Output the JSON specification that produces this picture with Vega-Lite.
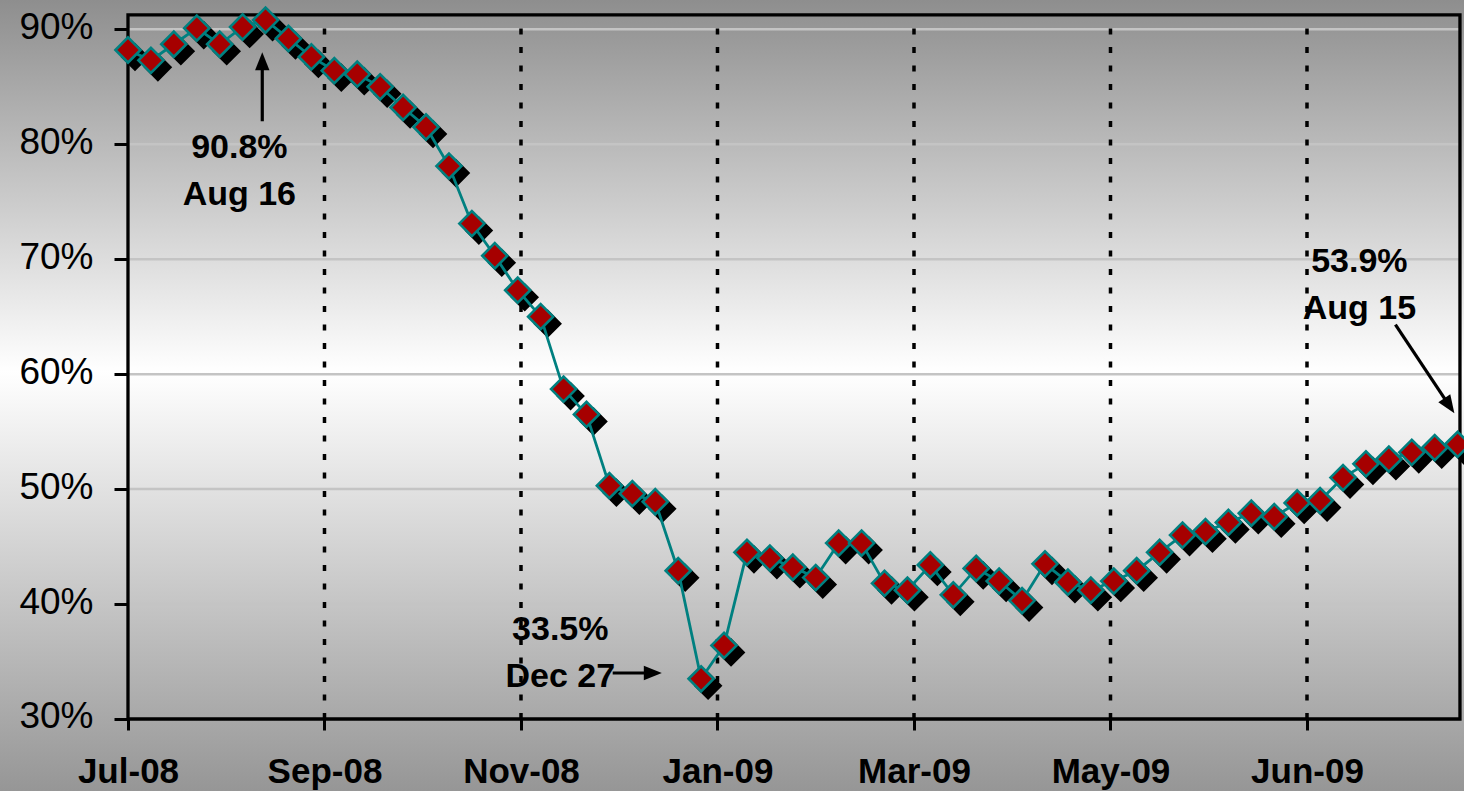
{
  "$schema": "https://vega.github.io/schema/vega-lite/v6.json",
  "width": 1464,
  "height": 791,
  "autosize": {"type": "none"},
  "padding": 0,
  "background": "#b0b0b0",
  "view": {
    "stroke": null,
    "fill": {
      "gradient": "linear", "x1": 0, "y1": 0, "x2": 0, "y2": 1,
      "stops": [
        {"offset": 0, "color": "#8e8e8e"},
        {"offset": 0.47, "color": "#ffffff"},
        {"offset": 1, "color": "#969696"}
      ]
    }
  },
  "config": {
    "font": "Liberation Sans, Arial, sans-serif"
  },
  "datasets": {
    "series": [
      {"date": "2008-07-05", "pct": 88.2},
      {"date": "2008-07-12", "pct": 87.3},
      {"date": "2008-07-19", "pct": 88.7},
      {"date": "2008-07-26", "pct": 90.1},
      {"date": "2008-08-02", "pct": 88.7},
      {"date": "2008-08-09", "pct": 90.2},
      {"date": "2008-08-16", "pct": 90.8},
      {"date": "2008-08-23", "pct": 89.2},
      {"date": "2008-08-30", "pct": 87.6},
      {"date": "2008-09-06", "pct": 86.4},
      {"date": "2008-09-13", "pct": 86.1},
      {"date": "2008-09-20", "pct": 85.0},
      {"date": "2008-09-27", "pct": 83.2},
      {"date": "2008-10-04", "pct": 81.5},
      {"date": "2008-10-11", "pct": 78.1},
      {"date": "2008-10-18", "pct": 73.1},
      {"date": "2008-10-25", "pct": 70.3},
      {"date": "2008-11-01", "pct": 67.3},
      {"date": "2008-11-08", "pct": 65.0},
      {"date": "2008-11-15", "pct": 58.7},
      {"date": "2008-11-22", "pct": 56.5},
      {"date": "2008-11-29", "pct": 50.3},
      {"date": "2008-12-06", "pct": 49.6},
      {"date": "2008-12-13", "pct": 48.9},
      {"date": "2008-12-20", "pct": 42.9},
      {"date": "2008-12-27", "pct": 33.5},
      {"date": "2009-01-03", "pct": 36.4},
      {"date": "2009-01-10", "pct": 44.5},
      {"date": "2009-01-17", "pct": 44.0},
      {"date": "2009-01-24", "pct": 43.2},
      {"date": "2009-01-31", "pct": 42.3},
      {"date": "2009-02-07", "pct": 45.3},
      {"date": "2009-02-14", "pct": 45.3},
      {"date": "2009-02-21", "pct": 41.8},
      {"date": "2009-02-28", "pct": 41.2},
      {"date": "2009-03-07", "pct": 43.4},
      {"date": "2009-03-14", "pct": 40.8},
      {"date": "2009-03-21", "pct": 43.1},
      {"date": "2009-03-28", "pct": 42.0},
      {"date": "2009-04-04", "pct": 40.3},
      {"date": "2009-04-11", "pct": 43.5},
      {"date": "2009-04-18", "pct": 41.9},
      {"date": "2009-04-25", "pct": 41.2},
      {"date": "2009-05-02", "pct": 42.0},
      {"date": "2009-05-09", "pct": 42.9},
      {"date": "2009-05-16", "pct": 44.5},
      {"date": "2009-05-23", "pct": 46.0},
      {"date": "2009-05-30", "pct": 46.3},
      {"date": "2009-06-06", "pct": 47.1},
      {"date": "2009-06-13", "pct": 47.9},
      {"date": "2009-06-20", "pct": 47.6},
      {"date": "2009-06-27", "pct": 48.8},
      {"date": "2009-07-04", "pct": 49.0},
      {"date": "2009-07-11", "pct": 51.0},
      {"date": "2009-07-18", "pct": 52.2},
      {"date": "2009-07-25", "pct": 52.6},
      {"date": "2009-08-01", "pct": 53.2},
      {"date": "2009-08-08", "pct": 53.6},
      {"date": "2009-08-15", "pct": 53.9}
    ],
    "levels": [
      {"date": "2008-07-05", "date2": "2009-08-15T17:00:00Z", "pct": 40},
      {"date": "2008-07-05", "date2": "2009-08-15T17:00:00Z", "pct": 50},
      {"date": "2008-07-05", "date2": "2009-08-15T17:00:00Z", "pct": 60},
      {"date": "2008-07-05", "date2": "2009-08-15T17:00:00Z", "pct": 70},
      {"date": "2008-07-05", "date2": "2009-08-15T17:00:00Z", "pct": 80},
      {"date": "2008-07-05", "date2": "2009-08-15T17:00:00Z", "pct": 90}
    ],
    "months": [
      {"date": "2008-09-03", "pct": 30, "pct2": 91.25},
      {"date": "2008-11-02", "pct": 30, "pct2": 91.25},
      {"date": "2009-01-01", "pct": 30, "pct2": 91.25},
      {"date": "2009-03-02", "pct": 30, "pct2": 91.25},
      {"date": "2009-05-01", "pct": 30, "pct2": 91.25},
      {"date": "2009-06-30", "pct": 30, "pct2": 91.25}
    ],
    "frame": [
      {"date": "2008-07-05", "date2": "2009-08-15T17:00:00Z", "pct": 30, "pct2": 91.25}
    ],
    "notes": [
      {"date": "2008-08-08", "pct": 78.8, "label": "90.8%\nAug 16"},
      {"date": "2008-11-14", "pct": 36.87, "label": "33.5%\nDec 27"},
      {"date": "2009-07-16", "pct": 68.89, "label": "53.9%\nAug 15"}
    ],
    "arrows": [
      {"date": "2008-08-15", "pct": 82.0, "date2": "2008-08-15", "pct2": 87.4},
      {"date": "2008-11-30", "pct": 34.0, "date2": "2008-12-13", "pct2": 34.0},
      {"date": "2009-07-27", "pct": 64.3, "date2": "2009-08-12", "pct2": 57.46}
    ]
  },
  "encoding": {
    "x": {
      "field": "date", "type": "temporal",
      "scale": {"type": "utc", "domain": [
        {"year": 2008, "month": 5, "date": 26, "hours": 22, "minutes": 5, "utc": true},
        {"year": 2009, "month": 8, "date": 16, "hours": 22, "minutes": 34, "utc": true}
      ]},
      "axis": {
        "title": null, "orient": "bottom", "domain": false, "grid": false, "offset": -72,
        "values": [
          {"year": 2008, "month": 7, "date": 5, "utc": true},
          {"year": 2008, "month": 9, "date": 3, "utc": true},
          {"year": 2008, "month": 11, "date": 2, "utc": true},
          {"year": 2009, "month": 1, "date": 1, "utc": true},
          {"year": 2009, "month": 3, "date": 2, "utc": true},
          {"year": 2009, "month": 5, "date": 1, "utc": true},
          {"year": 2009, "month": 6, "date": 30, "utc": true}
        ],
        "labelExpr": "utcFormat(datum.value, '%b-%y')",
        "tickSize": 11, "tickWidth": 3, "tickColor": "#000000",
        "labelFont": "Liberation Sans, Arial, sans-serif", "labelFontSize": 35, "labelFontWeight": "bold", "labelColor": "#000000",
        "labelAngle": 0, "labelBaseline": "alphabetic", "labelPadding": 52,
        "labelOverlap": false, "labelFlush": false, "labelBound": false
      }
    },
    "y": {
      "field": "pct", "type": "quantitative",
      "scale": {"domain": [23.736, 92.549], "nice": false, "zero": false},
      "axis": {
        "title": null, "orient": "left", "domain": false, "grid": false, "offset": -128,
        "values": [30, 40, 50, 60, 70, 80, 90],
        "labelExpr": "datum.value + '%'",
        "tickSize": 14, "tickWidth": 3, "tickColor": "#000000",
        "labelFont": "Liberation Sans, Arial, sans-serif", "labelFontSize": 37, "labelFontWeight": "normal", "labelColor": "#000000",
        "labelBaseline": "alphabetic", "labelOffset": 9, "labelPadding": 21,
        "labelOverlap": false, "labelBound": false
      }
    }
  },
  "layer": [
    {
      "data": {"name": "levels"},
      "mark": {"type": "rule", "color": "#c4c4c4", "strokeWidth": 2.5},
      "encoding": {"x2": {"field": "date2"}}
    },
    {
      "data": {"name": "months"},
      "mark": {"type": "rule", "color": "#000000", "strokeWidth": 3.5, "strokeDash": [6, 12.5]},
      "encoding": {"y2": {"field": "pct2"}}
    },
    {
      "data": {"name": "frame"},
      "mark": {"type": "rect", "filled": false, "color": "#000000", "strokeWidth": 3.3},
      "encoding": {"x2": {"field": "date2"}, "y2": {"field": "pct2"}}
    },
    {
      "data": {"name": "series"},
      "mark": {"type": "point", "shape": "diamond", "filled": true, "size": 630, "color": "#000000", "stroke": "#000000", "strokeWidth": 2.5, "opacity": 1, "xOffset": 7, "yOffset": 7}
    },
    {
      "data": {"name": "series"},
      "mark": {"type": "line", "color": "#008080", "strokeWidth": 2.8}
    },
    {
      "data": {"name": "series"},
      "mark": {"type": "point", "shape": "diamond", "filled": true, "size": 630, "fill": "#a60000", "stroke": "#008080", "strokeWidth": 2.6, "opacity": 1}
    },
    {
      "data": {"name": "arrows"},
      "mark": {"type": "rule", "color": "#000000", "strokeWidth": 3.2},
      "encoding": {"x2": {"field": "date2"}, "y2": {"field": "pct2"}}
    },
    {
      "data": {"values": [{"date": "2008-08-15", "pct": 88.0}]},
      "mark": {"type": "point", "shape": "M0,0L0.8,2L-0.8,2Z", "size": 324, "filled": true, "color": "#000000", "opacity": 1, "strokeWidth": 0, "angle": 0}
    },
    {
      "data": {"values": [{"date": "2008-12-15", "pct": 34.0}]},
      "mark": {"type": "point", "shape": "M0,0L0.8,2L-0.8,2Z", "size": 324, "filled": true, "color": "#000000", "opacity": 1, "strokeWidth": 0, "angle": 90}
    },
    {
      "data": {"values": [{"date": "2009-08-14", "pct": 56.6}]},
      "mark": {"type": "point", "shape": "M0,0L0.8,2L-0.8,2Z", "size": 324, "filled": true, "color": "#000000", "opacity": 1, "strokeWidth": 0, "angle": 146}
    },
    {
      "data": {"name": "notes"},
      "mark": {"type": "text", "font": "Liberation Sans, Arial, sans-serif", "fontSize": 34, "fontWeight": "bold", "color": "#000000",
               "align": "center", "baseline": "alphabetic", "lineBreak": "\n", "lineHeight": 47},
      "encoding": {"text": {"field": "label"}}
    }
  ]
}
